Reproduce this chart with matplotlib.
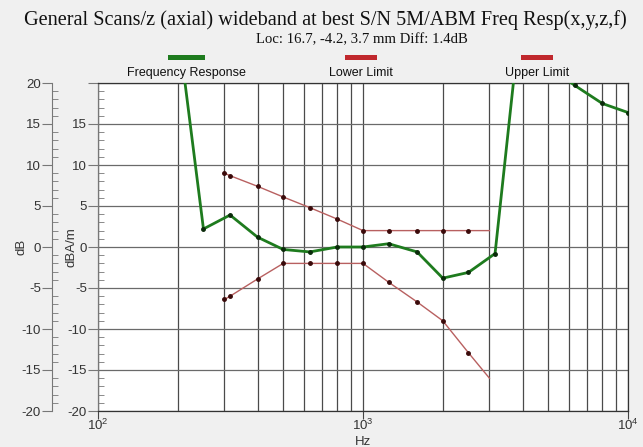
import matplotlib
matplotlib.use('Agg')
import matplotlib.pyplot as plt
import matplotlib.patches as patches
from matplotlib.ticker import MultipleLocator, LogLocator, NullFormatter

plt.rcParams['font.family'] = ['Liberation Sans', 'DejaVu Sans']
plt.rcParams['mathtext.fontset'] = 'custom'
plt.rcParams['mathtext.rm'] = 'Liberation Sans'
plt.rcParams['axes.unicode_minus'] = False

# Frequency response, one value per 1/3-octave band (dB)
resp_freq = [200, 250, 315, 400, 500, 630, 800, 1000, 1250, 1600, 2000, 2500, 3150,
             4000, 5000, 6300, 8000, 10000]
resp_db = [27.0, 2.2, 3.9, 1.2, -0.3, -0.6, 0.0, 0.0, 0.4, -0.6, -3.8, -3.1, -0.8,
           30.4, 22.0, 19.7, 17.5, 16.4]

# Tolerance band around the response
limit_freq = [300, 315, 400, 500, 630, 800, 1000, 1250, 1600, 2000, 2500, 3000]
upper_db = [9.0, 8.7, 7.4, 6.1, 4.8, 3.4, 2.0, 2.0, 2.0, 2.0, 2.0, 2.0]
lower_db = [-6.4, -6.0, -3.9, -2.0, -2.0, -2.0, -2.0, -4.3, -6.7, -9.0, -12.9, -16.0]

title = 'General Scans/z (axial) wideband at best S/N 5M/ABM Freq Resp(x,y,z,f)'
subtitle = 'Loc: 16.7, -4.2, 3.7 mm Diff: 1.4dB'
legend_names = ['Frequency Response', 'Lower Limit', 'Upper Limit']

GREEN = '#1e7b1e'
RED = '#c0282d'
LIMIT_LINE = '#b86060'
BG = '#f0f0f0'
TXT = '#333333'
FS = 9.5

fig = plt.figure(figsize=(6.43, 4.47), dpi=100, facecolor=BG)
ax = fig.add_axes([98 / 643, 36 / 447, 530 / 643, 328 / 447])
ax.set_facecolor('white')

ax.set_xscale('log')
ax.set_xlim(100, 10000)
ax.set_ylim(-20, 20)

# grid: every 1/3 decade step vertically, every 5 dB horizontally
ax.xaxis.set_major_locator(LogLocator(base=10))
ax.xaxis.set_minor_locator(LogLocator(base=10, subs=range(2, 10)))
ax.xaxis.set_minor_formatter(NullFormatter())
ax.yaxis.set_major_locator(MultipleLocator(5))
ax.yaxis.set_minor_locator(MultipleLocator(1))
ax.grid(which='both', axis='x', color='#4a4a4a', lw=0.9)
ax.grid(which='major', axis='y', color='#6a6a6a', lw=0.9)
ax.set_axisbelow(True)

ax.tick_params(axis='x', which='major', direction='out', length=6, color='#444', labelsize=FS, labelcolor=TXT, pad=-1)
ax.tick_params(axis='x', which='minor', length=0)
ax.tick_params(axis='y', which='major', direction='out', length=7, color='#777', labelsize=FS, labelcolor=TXT, pad=1)
ax.tick_params(axis='y', which='minor', direction='in', length=4, color='#777')
ax.set_yticks(range(-20, 21, 5))
ax.set_yticklabels([str(v) if v != 20 else '' for v in range(-20, 21, 5)])

for s in ax.spines.values():
    s.set_color('#333333')
    s.set_linewidth(0.9)
ax.spines['left'].set_color('#777777')

ax.set_xlabel('Hz', fontsize=FS, color=TXT, va='center')
ax.xaxis.set_label_coords(0.5, -31 / 328)
ax.set_ylabel('dBA/m', fontsize=FS, color=TXT, labelpad=-7)

# second dB scale further to the left
sec = ax.secondary_yaxis((52 - 98) / 530)
sec.set_yticks(range(-20, 21, 5))
sec.yaxis.set_minor_locator(MultipleLocator(1))
sec.tick_params(axis='y', which='major', direction='out', length=7, color='#777', labelsize=FS, labelcolor=TXT, pad=1)
sec.tick_params(axis='y', which='minor', direction='in', length=4, color='#777')
sec.spines['left'].set_color('#777777')
sec.set_ylabel('dB', fontsize=FS, color=TXT, labelpad=-4)

# limits: dots on every point except the last one
ax.plot(limit_freq, upper_db, color=LIMIT_LINE, lw=1.0, marker='o', ms=2.5,
        mfc='#3a0a0a', mec='#3a0a0a', markevery=slice(0, -1), zorder=3)
ax.plot(limit_freq, lower_db, color=LIMIT_LINE, lw=1.0, marker='o', ms=2.5,
        mfc='#3a0a0a', mec='#3a0a0a', markevery=slice(0, -1), zorder=3)

# measured response
ax.plot(resp_freq, resp_db, color=GREEN, lw=2.0, marker='o', ms=2.5,
        mfc='#0a2a0a', mec='#0a2a0a', zorder=4, clip_on=True)

# titles
fig.text(325 / 643, 1 - 20 / 447, title, ha='center', va='center', fontsize=14.6,
         family='Liberation Serif', color='#111111')
fig.text(362 / 643, 1 - 40 / 447, subtitle, ha='center', va='center', fontsize=10.6,
         family='Liberation Serif', color='#111111')

# legend: colour bar above each name
legend_colors = [GREEN, RED, RED]
legend_x = [186, 361, 537]
for name, col, cx in zip(legend_names, legend_colors, legend_x):
    w = 37 if col == GREEN else 32
    fig.add_artist(patches.Rectangle(((cx - w / 2) / 643, 1 - 60 / 447), w / 643, 5 / 447,
                                     transform=fig.transFigure, facecolor=col, edgecolor='none'))
    fig.text(cx / 643, 1 - 73 / 447, name, ha='center', va='center', fontsize=9,
             color='#111111')

fig.savefig('out.png', dpi=100, facecolor=BG)
